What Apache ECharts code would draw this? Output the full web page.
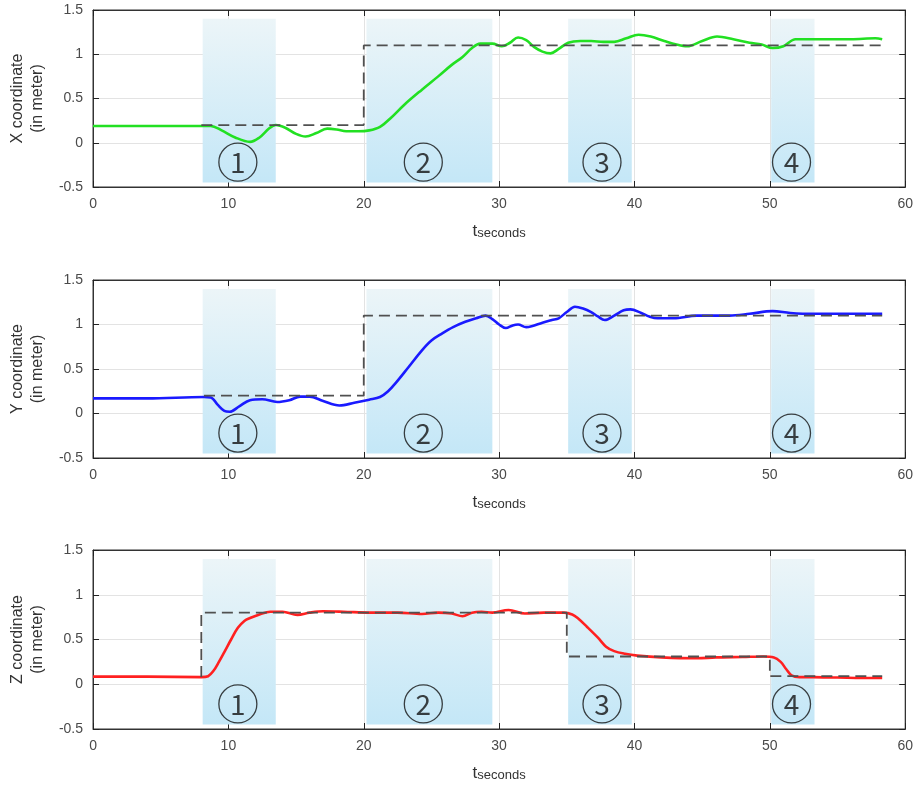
<!DOCTYPE html>
<html>
<head>
<meta charset="utf-8">
<title>X / Y / Z coordinate</title>
<script src="https://cdn.jsdelivr.net/npm/echarts@6/dist/echarts.min.js"></script>
<style>
  html, body { margin: 0; padding: 0; background: #fff; }
  #main { width: 916px; height: 794px; }
</style>
</head>
<body>
<div id="main"></div>
<script>
// measured X (green)
var xTime = [0, 2, 4, 6, 8, 8.7, 9.5, 10.5, 11.6, 12.3, 13.0, 13.5, 14.2, 15.0, 15.7, 16.5, 17.3, 18.0, 18.7, 19.6, 20.4, 21.2, 22.0, 23.0, 24.3, 25.5, 26.5, 27.3, 28.0, 28.6, 29.5, 30.2, 30.8, 31.4, 32.0, 32.6, 33.2, 33.8, 34.4, 35.1, 36.0, 36.8, 37.7, 38.5, 39.4, 40.3, 41.2, 42.2, 43.1, 43.9, 45.0, 46.1, 47.3, 48.5, 49.4, 50.2, 51.0, 51.9, 53.0, 54.4, 56.0, 57.8, 58.3];
var xVal  = [0.19, 0.19, 0.19, 0.19, 0.19, 0.19, 0.14, 0.06, 0.01, 0.06, 0.16, 0.2, 0.17, 0.1, 0.07, 0.11, 0.16, 0.15, 0.13, 0.13, 0.14, 0.18, 0.28, 0.43, 0.6, 0.75, 0.88, 0.97, 1.07, 1.12, 1.12, 1.09, 1.13, 1.19, 1.16, 1.08, 1.03, 1.01, 1.06, 1.13, 1.15, 1.15, 1.14, 1.14, 1.18, 1.22, 1.2, 1.15, 1.11, 1.09, 1.15, 1.2, 1.17, 1.13, 1.11, 1.07, 1.09, 1.17, 1.17, 1.17, 1.17, 1.18, 1.17];

// measured Y (blue)
var yTime = [0, 4, 8.2, 8.7, 9.2, 9.7, 10.1, 10.8, 11.6, 12.5, 13.6, 14.5, 15.3, 16.0, 17.0, 18.2, 19.3, 20.4, 21.2, 21.8, 22.4, 23.3, 24.3, 25.0, 25.8, 26.6, 27.5, 28.3, 29.0, 29.5, 30.0, 30.5, 31.0, 31.4, 32.0, 32.4, 33.2, 33.9, 34.4, 35.0, 35.6, 36.2, 36.8, 37.3, 37.8, 38.5, 39.2, 39.7, 40.5, 41.1, 41.7, 42.9, 44.6, 46.0, 47.0, 48.5, 50.2, 51.5, 53.2, 55.0, 57.8, 58.3];
var yVal  = [0.17, 0.17, 0.185, 0.18, 0.1, 0.03, 0.02, 0.08, 0.15, 0.16, 0.13, 0.15, 0.19, 0.19, 0.14, 0.09, 0.12, 0.155, 0.185, 0.25, 0.35, 0.52, 0.71, 0.82, 0.9, 0.97, 1.03, 1.07, 1.1, 1.06, 1.0, 0.96, 0.99, 1.0, 0.97, 0.98, 1.02, 1.05, 1.07, 1.14, 1.2, 1.18, 1.14, 1.09, 1.05, 1.1, 1.16, 1.17, 1.13, 1.09, 1.07, 1.07, 1.1, 1.1, 1.1, 1.12, 1.15, 1.13, 1.12, 1.12, 1.12, 1.12];

// measured Z (red)
var zTime = [0, 4, 8.0, 8.5, 8.9, 9.3, 9.7, 10.2, 10.7, 11.2, 11.6, 12.3, 13.1, 14.0, 15.1, 16.0, 17.0, 18.5, 20.5, 22.5, 24.3, 25.5, 26.5, 27.3, 28.0, 28.7, 29.5, 30.7, 31.9, 33.3, 34.8, 35.4, 35.8, 36.5, 37.3, 37.9, 38.5, 39.3, 40.2, 42.0, 44.6, 46.0, 48.0, 49.5, 50.3, 50.8, 51.2, 51.6, 52.2, 53.2, 55.0, 57.8, 58.3];
var zVal  = [0.085, 0.085, 0.08, 0.09, 0.15, 0.25, 0.36, 0.5, 0.63, 0.71, 0.74, 0.78, 0.81, 0.81, 0.775, 0.8, 0.815, 0.81, 0.8, 0.8, 0.785, 0.8, 0.79, 0.76, 0.8, 0.81, 0.8, 0.83, 0.79, 0.8, 0.8, 0.78, 0.74, 0.64, 0.52, 0.42, 0.37, 0.34, 0.32, 0.3, 0.29, 0.3, 0.305, 0.31, 0.3, 0.25, 0.17, 0.1, 0.08, 0.08, 0.075, 0.07, 0.07];

// reference (dashed) step paths
var xRefTime = [8.0, 20.0, 20.0, 58.3];
var xRefVal  = [0.2, 0.2, 1.1, 1.1];
var yRefTime = [8.2, 20.0, 20.0, 58.3];
var yRefVal  = [0.2, 0.2, 1.1, 1.1];
var zRefTime = [8.0, 8.0, 35.0, 35.0, 50.0, 50.0, 58.3];
var zRefVal  = [0.08, 0.8, 0.8, 0.31, 0.31, 0.09, 0.09];

// phases (shaded) and their circled labels
var phaseStart = [8.1, 20.2, 35.1, 50.1];
var phaseEnd   = [13.5, 29.5, 39.8, 53.3];
var phaseLabel = ['1', '2', '3', '4'];
var phaseLabelX = [10.7, 24.4, 37.6, 51.6];
var phaseLabelY = -0.22;

var yNames = ['X coordinate\n(in meter)', 'Y coordinate\n(in meter)', 'Z coordinate\n(in meter)'];
var lineColors = ['#22e022', '#1a1aff', '#ff2020'];

function pairs(t, v) {
    var out = [];
    for (var i = 0; i < t.length; i++) out.push([t[i], v[i]]);
    return out;
}

var measured = [pairs(xTime, xVal), pairs(yTime, yVal), pairs(zTime, zVal)];
var refs = [pairs(xRefTime, xRefVal), pairs(yRefTime, yRefVal), pairs(zRefTime, zRefVal)];

var grids = [
    {left: 91, top: 10, width: 819, height: 177, show: true, borderColor: '#333', borderWidth: 1},
    {left: 91, top: 280, width: 819, height: 178, show: true, borderColor: '#333', borderWidth: 1},
    {left: 91, top: 550, width: 819, height: 179, show: true, borderColor: '#333', borderWidth: 1}
];

var tickColor = '#4a4a4a';
var xAxes = [], yAxes = [], series = [];

var shadeGrad = new echarts.graphic.LinearGradient(0, 0, 0, 1, [
    {offset: 0, color: '#ecf5f8'},
    {offset: 1, color: '#c4e7f7'}
]);

var areas = [];
for (var k = 0; k < phaseStart.length; k++) {
    areas.push([{xAxis: phaseStart[k], yAxis: 1.4}, {xAxis: phaseEnd[k], yAxis: -0.45}]);
}
var circles = [];
for (var k = 0; k < phaseLabel.length; k++) {
    circles.push([phaseLabelX[k], phaseLabelY, phaseLabel[k]]);
}

var tick = {show: true, inside: true, length: 6, lineStyle: {color: '#222', width: 1}};

for (var g = 0; g < 3; g++) {
    // bottom axis with labels
    xAxes.push({
        type: 'value', gridIndex: g, min: 0, max: 60, interval: 10,
        name: '{t|t}{s|seconds}',
        nameLocation: 'middle', nameGap: 33,
        nameTextStyle: {
            rich: {
                t: {fontSize: 17, color: '#333', fontFamily: 'Liberation Sans', verticalAlign: 'bottom', lineHeight: 20},
                s: {fontSize: 13, color: '#333', fontFamily: 'Liberation Sans', verticalAlign: 'bottom', padding: [12, 0, 0, 0], lineHeight: 20}
            }
        },
        axisLine: {show: true, onZero: false, lineStyle: {color: '#333', width: 1}},
        axisTick: tick,
        axisLabel: {color: tickColor, fontSize: 14, fontFamily: 'Liberation Sans', margin: 10},
        splitLine: {show: true, lineStyle: {color: '#e3e3e3', width: 1}}
    });
    // top axis: ticks on the box edge
    xAxes.push({
        type: 'value', gridIndex: g, min: 0, max: 60, interval: 10, position: 'top',
        axisLine: {show: true, onZero: false, lineStyle: {color: '#333', width: 1}},
        axisTick: tick,
        axisLabel: {show: false},
        splitLine: {show: false}
    });
    yAxes.push({
        type: 'value', gridIndex: g, min: -0.5, max: 1.5, interval: 0.5,
        name: yNames[g],
        nameLocation: 'middle', nameGap: 38, nameRotate: 90,
        nameTextStyle: {fontSize: 16, color: '#333', fontFamily: 'Liberation Sans', lineHeight: 20},
        axisLine: {show: true, onZero: false, lineStyle: {color: '#333', width: 1}},
        axisTick: tick,
        axisLabel: {color: tickColor, fontSize: 14, fontFamily: 'Liberation Sans', margin: 10},
        splitLine: {show: true, lineStyle: {color: '#e3e3e3', width: 1}}
    });
    yAxes.push({
        type: 'value', gridIndex: g, min: -0.5, max: 1.5, interval: 0.5, position: 'right',
        axisLine: {show: true, onZero: false, lineStyle: {color: '#333', width: 1}},
        axisTick: tick,
        axisLabel: {show: false},
        splitLine: {show: false}
    });

    // shaded phases
    series.push({
        type: 'line', xAxisIndex: 2 * g, yAxisIndex: 2 * g,
        data: refs[g], symbol: 'none', silent: true, z: 1,
        lineStyle: {opacity: 0},
        markArea: {silent: true, itemStyle: {color: shadeGrad}, data: areas}
    });
    // measured trajectory
    series.push({
        type: 'line', xAxisIndex: 2 * g, yAxisIndex: 2 * g,
        data: measured[g], symbol: 'none', smooth: 0.35, z: 3,
        lineStyle: {color: lineColors[g], width: 2.6}
    });
    // reference step
    series.push({
        type: 'line', xAxisIndex: 2 * g, yAxisIndex: 2 * g,
        data: refs[g], symbol: 'none', z: 4,
        lineStyle: {color: '#505050', width: 1.8, type: [11, 6]}
    });
    // circled phase numbers
    series.push({
        type: 'scatter', xAxisIndex: 2 * g, yAxisIndex: 2 * g,
        data: circles, symbol: 'circle', symbolSize: 38, z: 5,
        itemStyle: {color: 'rgba(0,0,0,0)', borderColor: '#111', borderWidth: 1.3},
        label: {
            show: true, position: 'inside', color: '#111', fontSize: 28,
            fontFamily: 'Noto Sans CJK SC',
            formatter: function (p) { return p.value[2]; }
        }
    });
}

var chart = echarts.init(document.getElementById('main'));
chart.setOption({
    animation: false,
    backgroundColor: '#fff',
    grid: grids,
    xAxis: xAxes,
    yAxis: yAxes,
    series: series
});
</script>
</body>
</html>
